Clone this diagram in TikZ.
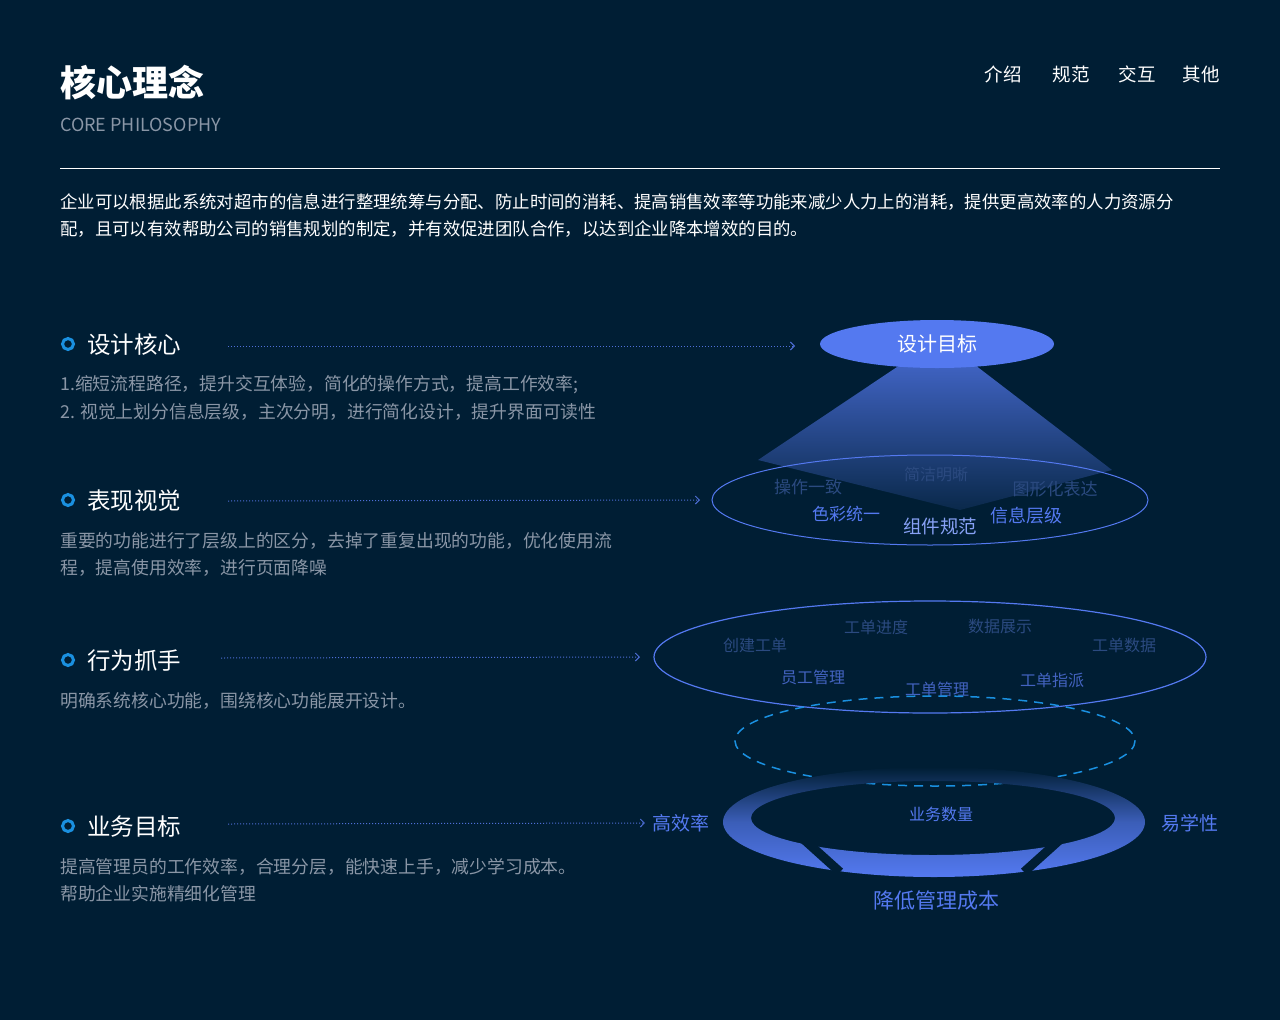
\documentclass[tikz,border=0pt]{standalone}
\usepackage{fontspec}
\setmainfont{Noto Sans CJK SC}
\usepackage{tikz}
\usetikzlibrary{arrows.meta,positioning}
\definecolor{bgnavy}{HTML}{001E34}
\definecolor{goalblue}{HTML}{5479F0}
\definecolor{dimblue}{HTML}{2B4A80}
\definecolor{midblue}{HTML}{4F6FD8}
\definecolor{dashblue}{HTML}{1A90E0}
\definecolor{greytext}{HTML}{8A96A6}
\tikzset{
    heading/.style={anchor=west, inner sep=0pt, text=white, font=\fontsize{23.5}{26}\selectfont},
    desc/.style={anchor=west, inner sep=0pt, text=greytext, font=\fontsize{17.8}{20}\selectfont},
    bullet/.style={circle, draw=dashblue, line width=3pt, minimum size=11pt, inner sep=0pt},
    lead/.style={dotted, draw=midblue, line width=1pt, -{Straight Barb[length=4pt,width=8pt]}},
    dimlabel/.style={text=dimblue, font=\fontsize{17}{19}\selectfont},
    brightlabel/.style={text=midblue, font=\fontsize{17}{19}\selectfont},
    navitem/.style={text=white, font=\fontsize{18.5}{20}\selectfont},
}
\begin{document}
\begin{tikzpicture}[x=1pt,y=-1pt]
    % background
    \fill[bgnavy] (0,0) rectangle (1280,1020);
    \useasboundingbox (0,0) rectangle (1280,1020);

    % title and navigation
    \node[anchor=west, inner sep=0pt, text=white, font=\bfseries\fontsize{36}{38}\selectfont] (TITLE) at (60,83) {核心理念};
    \node[anchor=west, inner sep=0pt, text=greytext, font=\fontsize{18}{20}\selectfont] (SUBTITLE) at (60,125) {CORE PHILOSOPHY};
    \node[navitem] (NAV_A) at (1003,74) {介绍};
    \node[navitem] (NAV_B) at (1071,74) {规范};
    \node[navitem] (NAV_C) at (1137,74) {交互};
    \node[navitem] (NAV_D) at (1201,74) {其他};
    \draw[white, line width=1pt] (60,168) -- (1220,168);

    % intro text
    \node[anchor=west, inner sep=0pt, text=white, font=\fontsize{17.4}{20}\selectfont] (INTRO_A) at (60,202)
        {企业可以根据此系统对超市的信息进行整理统筹与分配、防止时间的消耗、提高销售效率等功能来减少人力上的消耗，提供更高效率的人力资源分};
    \node[anchor=west, inner sep=0pt, text=white, font=\fontsize{17.4}{20}\selectfont] (INTRO_B) at (60,229)
        {配，且可以有效帮助公司的销售规划的制定，并有效促进团队合作，以达到企业降本增效的目的。};

    % left sections
    \node[bullet] (DOT_A) at (68,344) {};
    \node[heading] (SEC_DESIGN) at (87,345) {设计核心};
    \node[desc] at (60,385) {1.缩短流程路径，提升交互体验，简化的操作方式，提高工作效率;};
    \node[desc] at (60,412) {2. 视觉上划分信息层级，主次分明，进行简化设计，提升界面可读性};

    \node[bullet] (DOT_B) at (68,500) {};
    \node[heading] (SEC_VISUAL) at (87,501) {表现视觉};
    \node[desc] at (60,541) {重要的功能进行了层级上的区分，去掉了重复出现的功能，优化使用流};
    \node[desc] at (60,568) {程，提高使用效率，进行页面降噪};

    \node[bullet] (DOT_C) at (68,660) {};
    \node[heading] (SEC_ACTION) at (87,661) {行为抓手};
    \node[desc] at (60,701) {明确系统核心功能，围绕核心功能展开设计。};

    \node[bullet] (DOT_D) at (68,826) {};
    \node[heading] (SEC_GOAL) at (87,827) {业务目标};
    \node[desc] at (60,867) {提高管理员的工作效率，合理分层，能快速上手，减少学习成本。};
    \node[desc] at (60,894) {帮助企业实施精细化管理};

    % cone under the goal
    \shade[top color=goalblue!75!bgnavy, bottom color=goalblue!12!bgnavy]
        (900,365) -- (975,365) -- (1112,470) -- (960,510) -- (758,460) -- cycle;

    % goal ellipse
    \fill[goalblue] (937,344) ellipse [x radius=117, y radius=24];
    \node[text=white, font=\fontsize{20}{22}\selectfont] (GOAL) at (937,344) {设计目标};

    % visual ellipse
    \draw[goalblue, line width=1pt] (930,500) ellipse [x radius=218, y radius=45];
    \coordinate (VIS_L) at (712,500);
    \node[dimlabel] at (808,487) {操作一致};
    \node[dimlabel, font=\fontsize{16}{18}\selectfont] at (936,474) {简洁明晰};
    \node[dimlabel] at (1055,489) {图形化表达};
    \node[brightlabel, text=goalblue] at (846,514) {色彩统一};
    \node[brightlabel, text=goalblue!70!white, font=\fontsize{18.5}{20}\selectfont] at (940,526) {组件规范};
    \node[brightlabel, text=goalblue, font=\fontsize{18}{19}\selectfont] at (1026,516) {信息层级};

    % action ellipse
    \draw[goalblue, line width=1.2pt] (930,657) ellipse [x radius=276, y radius=56];
    \coordinate (ACT_L) at (654,657);
    \node[dimlabel, font=\fontsize{16}{17}\selectfont] at (755,645) {创建工单};
    \node[dimlabel, font=\fontsize{16}{17}\selectfont] at (876,627) {工单进度};
    \node[dimlabel, font=\fontsize{16}{17}\selectfont] at (1000,626) {数据展示};
    \node[dimlabel, font=\fontsize{16}{17}\selectfont] at (1124,645) {工单数据};
    \node[brightlabel, text=midblue!85!bgnavy, font=\fontsize{16}{17}\selectfont] at (813,677) {员工管理};
    \node[brightlabel, text=midblue!85!bgnavy, font=\fontsize{16}{17}\selectfont] at (937,689) {工单管理};
    \node[brightlabel, text=midblue!85!bgnavy, font=\fontsize{16}{17}\selectfont] at (1052,680) {工单指派};

    % dashed ellipse
    \draw[dashblue, line width=1.5pt, dash pattern=on 9pt off 7pt] (935,741) ellipse [x radius=200, y radius=45];

    % ring
    \shade[top color=bgnavy, bottom color=goalblue, middle color=goalblue!70!bgnavy, even odd rule]
        (934,822) ellipse [x radius=211, y radius=55]
        (933,818) ellipse [x radius=182, y radius=37];
    \draw[bgnavy, line width=9pt] (800,836) -- (840,872);
    \draw[bgnavy, line width=9pt] (1064,836) -- (1024,872);
    \node[text=goalblue, font=\fontsize{16}{17}\selectfont] (AMOUNT) at (941,814) {业务数量};
    \node[text=goalblue, font=\fontsize{19}{20}\selectfont] (EFFIC) at (681,823) {高效率};
    \node[text=goalblue, font=\fontsize{19}{20}\selectfont] (EASY) at (1190,823) {易学性};
    \node[text=goalblue, font=\fontsize{21}{22}\selectfont] (COST) at (936,901) {降低管理成本};

    % leader lines
    \coordinate (LA) at (795,346);
    \draw[lead] (228,346) -- (LA);
    \draw[lead] (228,501) -- ([xshift=-12pt]VIS_L);
    \draw[lead] (221,658) -- ([xshift=-14pt]ACT_L);
    \draw[lead] (228,824) -- ([xshift=-4pt]EFFIC.west);
\end{tikzpicture}
\end{document}
